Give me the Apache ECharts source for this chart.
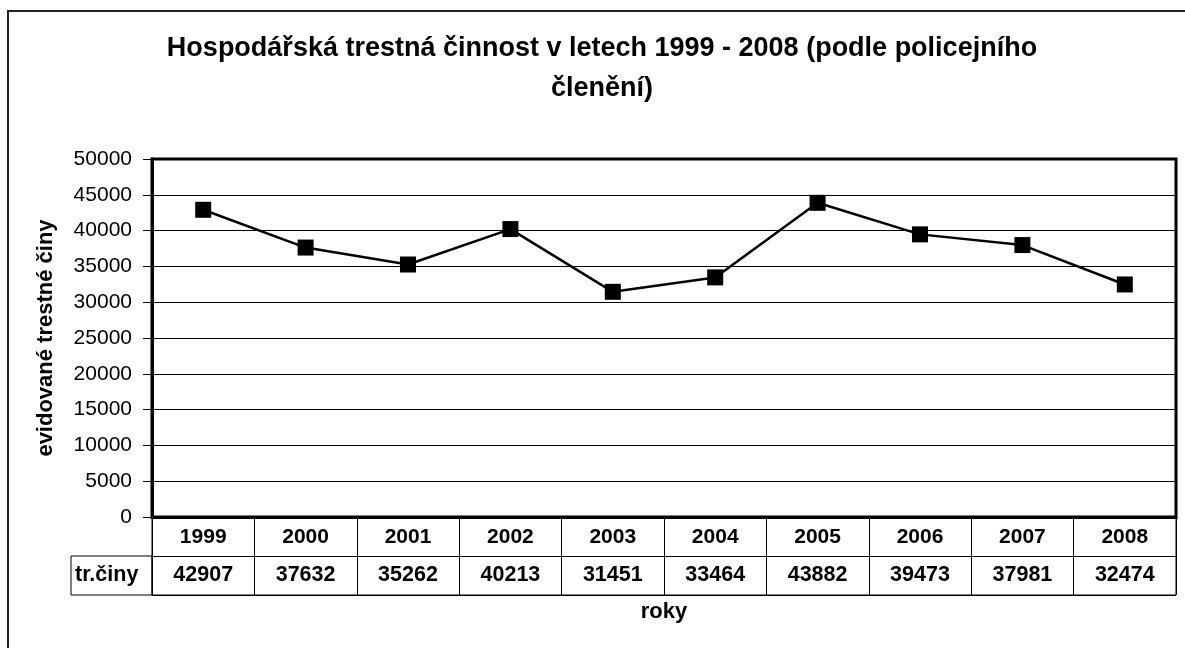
<!DOCTYPE html>
<html>
<head>
<meta charset="utf-8">
<script src="https://cdn.jsdelivr.net/npm/echarts@6/dist/echarts.min.js"></script>
<style>
html, body { margin: 0; padding: 0; background: #fff; }
#chart { width: 1185px; height: 648px; }
</style>
</head>
<body>
<div id="chart"></div>
<script>
var years = ['1999', '2000', '2001', '2002', '2003', '2004', '2005', '2006', '2007', '2008'];
var crimes = [42907, 37632, 35262, 40213, 31451, 33464, 43882, 39473, 37981, 32474];
var tableRows = ['tr.činy', 'roky'];
var seriesName = 'tr.činy';

var font = 'Arial, "Liberation Sans", sans-serif';

window.onload = function() {
    setLine();
};

function setLine() {
    var ec = echarts.init(document.getElementById('chart'));
    ec.setOption({
        animation: false,
        textStyle: { fontFamily: font, color: '#000' },
        title: {
            text: 'Hospodářská trestná činnost v letech 1999 - 2008 (podle policejního\nčlenění)',
            left: 597,
            top: 24,
            textAlign: 'center',
            textStyle: {
                fontSize: 27,
                fontWeight: 'bold',
                lineHeight: 40,
                color: '#000',
                fontFamily: font
            }
        },
        graphic: [{
            type: 'rect',
            shape: { x: 8, y: 11, width: 1200, height: 700 },
            style: { fill: 'none', stroke: '#222', lineWidth: 2 },
            silent: true
        }],
        grid: [
            // plot area
            { left: 152, right: 9, top: 159, bottom: 131, show: true, borderColor: '#000', borderWidth: 3 },
            // data table
            { left: 152, right: 9, top: 517, height: 78, show: true, borderColor: '#000', borderWidth: 1 },
            // tr.činy cell
            { left: 71, width: 81, top: 556, height: 39, show: true, borderColor: '#000', borderWidth: 1 }
        ],
        xAxis: [{
            gridIndex: 0,
            type: 'category',
            data: years,
            boundaryGap: true,
            axisLine: { lineStyle: { color: '#000', width: 3 } },
            axisTick: { show: false },
            axisLabel: {
                interval: 0,
                margin: 10,
                color: '#000',
                fontSize: 21,
                fontWeight: 'bold',
                fontFamily: font
            },
            splitLine: { show: false }
        }, {
            // table: bottom row carries the values
            gridIndex: 1,
            type: 'category',
            data: years,
            boundaryGap: true,
            axisLine: { show: false },
            axisTick: { show: false },
            axisLabel: {
                inside: true,
                interval: 0,
                margin: 9,
                color: '#000',
                fontSize: 21.5,
                fontWeight: 'bold',
                fontFamily: font,
                formatter: function(v, i) { return String(crimes[i]); }
            },
            splitLine: { show: true, interval: 0, lineStyle: { color: '#000', width: 1 } },
            name: 'roky',
            nameLocation: 'middle',
            nameGap: 6,
            nameTextStyle: {
                fontSize: 22,
                fontWeight: 'bold',
                color: '#000',
                fontFamily: font,
                verticalAlign: 'top'
            }
        }, {
            gridIndex: 2,
            type: 'value',
            show: false
        }],
        yAxis: [{
            gridIndex: 0,
            type: 'value',
            min: 0,
            max: 50000,
            interval: 5000,
            axisLine: { show: true, lineStyle: { color: '#000', width: 3 } },
            axisTick: { show: true, length: 9, lineStyle: { color: '#000', width: 1 } },
            axisLabel: {
                margin: 20,
                color: '#000',
                fontSize: 21,
                fontFamily: font,
                formatter: function(v) { return String(v); }
            },
            splitLine: { show: true, lineStyle: { color: '#000', width: 1 } },
            name: 'evidované trestné činy',
            nameLocation: 'middle',
            nameGap: 95,
            nameTextStyle: {
                fontSize: 22,
                fontWeight: 'bold',
                color: '#000',
                fontFamily: font
            }
        }, {
            gridIndex: 1,
            type: 'category',
            data: tableRows,
            axisLine: { show: false },
            axisTick: { show: false },
            axisLabel: { show: false },
            splitLine: { show: true, interval: 0, lineStyle: { color: '#000', width: 1 } }
        }, {
            gridIndex: 2,
            type: 'category',
            data: [tableRows[0]],
            axisLine: { show: false },
            axisTick: { show: false },
            splitLine: { show: false },
            axisLabel: {
                inside: true,
                margin: 4,
                color: '#000',
                fontSize: 21.5,
                fontWeight: 'bold',
                fontFamily: font
            }
        }],
        series: [{
            name: seriesName,
            type: 'line',
            xAxisIndex: 0,
            yAxisIndex: 0,
            data: crimes,
            symbol: 'rect',
            symbolSize: 16,
            showAllSymbol: true,
            lineStyle: { color: '#000', width: 2.5 },
            itemStyle: { color: '#000', borderWidth: 0 }
        }]
    });
}
</script>
</body>
</html>
